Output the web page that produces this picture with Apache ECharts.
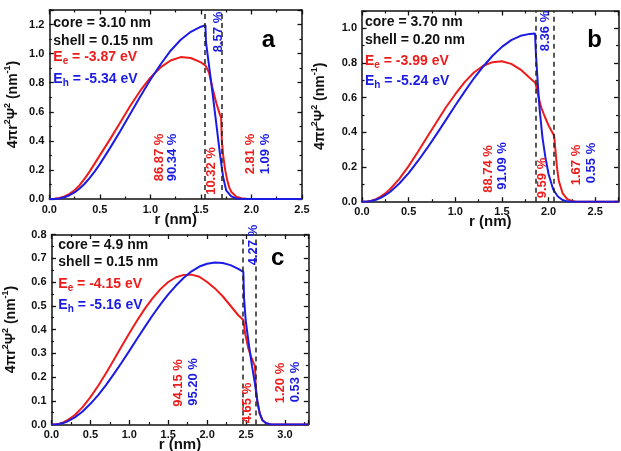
<!DOCTYPE html>
<html><head><meta charset="utf-8">
<script src="https://cdn.jsdelivr.net/npm/echarts@6/dist/echarts.min.js"></script>
<style>html,body{margin:0;padding:0;background:#fff}#c{width:621px;height:451px}</style>
</head><body><div id="c"></div>
<script>
// ---------- DATA ----------
// panel a
const rA_e = [0,0.05,0.1,0.15,0.2,0.25,0.3,0.35,0.4,0.45,0.5,0.6,0.7,0.8,0.9,1.0,1.1,1.2,1.3,1.4,1.5,1.545,1.58,1.61,1.65,1.69,1.70,1.707,1.72,1.74,1.76,1.78,1.80,1.85,1.9,1.95,2.0,2.5];
const eA   = [0,0.001,0.007,0.018,0.035,0.06,0.095,0.14,0.19,0.245,0.30,0.41,0.525,0.64,0.745,0.835,0.905,0.953,0.976,0.97,0.94,0.918,0.87,0.775,0.665,0.575,0.56,0.40,0.30,0.2,0.13,0.08,0.05,0.016,0.005,0.001,0,0];
const rA_h = [0,0.05,0.1,0.15,0.2,0.25,0.3,0.35,0.4,0.45,0.5,0.6,0.7,0.8,0.9,1.0,1.1,1.2,1.3,1.4,1.5,1.545,1.55,1.6,1.65,1.69,1.72,1.75,1.8,1.85,1.9,1.95,2.5];
const hA   = [0,0,0.004,0.012,0.026,0.045,0.072,0.105,0.145,0.19,0.24,0.35,0.465,0.585,0.705,0.82,0.925,1.02,1.095,1.15,1.185,1.195,1.08,0.81,0.53,0.30,0.15,0.06,0.018,0.004,0.001,0,0];
// panel b
const rB_e = [0,0.05,0.1,0.15,0.2,0.25,0.3,0.4,0.5,0.6,0.7,0.8,0.9,1.0,1.1,1.2,1.3,1.4,1.5,1.6,1.7,1.8,1.86,1.89,1.92,1.96,2.0,2.06,2.075,2.09,2.11,2.15,2.2,2.25,2.3,2.75];
const eB   = [0,0.001,0.006,0.015,0.03,0.048,0.072,0.132,0.205,0.288,0.375,0.46,0.545,0.62,0.69,0.745,0.784,0.805,0.81,0.795,0.762,0.713,0.685,0.61,0.545,0.49,0.44,0.38,0.29,0.2,0.12,0.05,0.015,0.004,0,0];
const rB_h = [0,0.05,0.1,0.15,0.2,0.25,0.3,0.4,0.5,0.6,0.7,0.8,0.9,1.0,1.1,1.2,1.3,1.4,1.5,1.6,1.7,1.8,1.855,1.865,1.885,1.905,1.935,1.965,2.0,2.05,2.1,2.15,2.2,2.25,2.75];
const hB   = [0,0,0.004,0.011,0.022,0.038,0.056,0.105,0.165,0.235,0.31,0.39,0.472,0.555,0.635,0.712,0.78,0.842,0.893,0.932,0.957,0.968,0.97,0.85,0.68,0.53,0.37,0.26,0.16,0.07,0.03,0.01,0.002,0,0];
// panel c
const rC_e = [0,0.05,0.1,0.15,0.2,0.3,0.4,0.5,0.6,0.7,0.8,0.9,1.0,1.1,1.2,1.3,1.4,1.5,1.6,1.7,1.8,1.9,2.0,2.1,2.2,2.3,2.4,2.465,2.49,2.53,2.57,2.615,2.625,2.645,2.675,2.71,2.76,2.81,2.86,3.3];
const eC   = [0,0,0.003,0.009,0.017,0.04,0.073,0.115,0.163,0.216,0.272,0.328,0.384,0.438,0.488,0.532,0.57,0.6,0.62,0.63,0.631,0.622,0.6,0.573,0.54,0.5,0.46,0.44,0.38,0.32,0.28,0.245,0.16,0.095,0.047,0.018,0.005,0.001,0,0];
const rC_h = [0,0.05,0.1,0.15,0.2,0.3,0.4,0.5,0.6,0.7,0.8,0.9,1.0,1.1,1.2,1.3,1.4,1.5,1.6,1.7,1.8,1.9,2.0,2.1,2.2,2.3,2.4,2.465,2.475,2.495,2.535,2.575,2.615,2.645,2.675,2.71,2.76,2.81,2.86,3.3];
const hC   = [0,0,0.002,0.006,0.012,0.03,0.055,0.087,0.124,0.166,0.212,0.26,0.31,0.361,0.411,0.46,0.506,0.548,0.585,0.618,0.645,0.665,0.677,0.682,0.68,0.671,0.655,0.643,0.53,0.44,0.34,0.25,0.17,0.1,0.048,0.018,0.005,0.001,0,0];
// core / shell boundaries (dashed lines)
const shellA = [1.545, 1.705];
const shellB = [1.86, 2.06];
const shellC = [2.465, 2.62];
// texts
const infoA = ['core = 3.10 nm','shell = 0.15 nm','-3.87','-5.34'];
const infoB = ['core = 3.70 nm','shell = 0.20 nm','-3.99','-5.24'];
const infoC = ['core = 4.9 nm','shell = 0.15 nm','-4.15','-5.16'];
const pctA = ['86.87 %','90.34 %','10.32 %','8.57 %','2.81 %','1.09 %'];
const pctB = ['88.74 %','91.09 %','9.59 %','8.36 %','1.67 %','0.55 %'];
const pctC = ['94.15 %','95.20 %','4.65 %','4.27 %','1.20 %','0.53 %'];
const tags = ['a','b','c'];
const xName = 'r (nm)';
const yName = '4πr{s|2}Ψ{s|2} (nm{s|-1})';

// ---------- STYLE / LAYOUT ----------
const FONT = '"Liberation Sans", Arial, Helvetica, sans-serif';
const RED = '#ee1b1b', BLUE = '#1b1be3', INK = '#111';
const grids = [
  {left:49.3, top:10, width:252.7, height:189},
  {left:362, top:11, width:256.5, height:190.7},
  {left:51.5, top:234.5, width:256.8, height:190}
];
const xMax = [2.5, 2.75, 3.3], yMax = [1.3, 1.1, 0.8], yInt = [0.2, 0.2, 0.1];
const xShowMax = [true, false, false], yShowMax = [false, false, true];
const yNameGap = [26, 32, 30];

const panels = [
  {re:rA_e, e:eA, rh:rA_h, h:hA, shell:shellA, info:infoA, pct:pctA},
  {re:rB_e, e:eB, rh:rB_h, h:hB, shell:shellB, info:infoB, pct:pctB},
  {re:rC_e, e:eC, rh:rC_h, h:hC, shell:shellC, info:infoC, pct:pctC}
];
const infoPos = [{x:53.3, ys:[23.5,41,57,79]}, {x:365, ys:[22.5,40.5,61,81.5]}, {x:58.3, ys:[245.5,262,284,305]}];
const pctPos = [
  [[159.3,157.5],[172.3,157.5],[211.7,171],[218.3,32],[250,154],[265.7,154]],
  [[488.3,169],[502.7,166],[542.7,178],[545,31],[576.7,165],[591.7,163]],
  [[178.3,383],[193.3,382],[247.7,403],[253.3,245],[280,383],[295,382]]
];
const pctCol = [RED,BLUE,RED,BLUE,RED,BLUE];
const tagPos = [[268.3,40],[594.7,40],[277.7,258]];

const lineAx = {show:true, onZero:false, lineStyle:{color:INK, width:1.5}};
const tickAx = {show:true, inside:true, length:4.5, lineStyle:{color:INK, width:1.3}};
const minorAx = {show:true, splitNumber:2, length:2.5, lineStyle:{color:INK, width:1.2}};
const lblBase = {fontSize:11, fontWeight:'bold', fontFamily:FONT, color:INK};

const xAxis = [], yAxis = [], series = [], graphic = [];
for (let i = 0; i < 3; i++) {
  const common = {type:'value', gridIndex:i, min:0, max:xMax[i], interval:0.5,
    axisLine:lineAx, axisTick:tickAx, minorTick:minorAx, splitLine:{show:false}, minorSplitLine:{show:false}};
  xAxis[i] = Object.assign({}, common, {position:'bottom', name:xName, nameLocation:'middle', nameGap:13,
    nameMoveOverlap:false,
    nameTextStyle:{fontSize:15, fontWeight:'bold', fontFamily:FONT, color:INK},
    axisLabel:Object.assign({margin:5, showMinLabel:true, showMaxLabel:xShowMax[i], formatter:v=>v.toFixed(1)}, lblBase)});
  xAxis[i+3] = Object.assign({}, common, {position:'top', axisLabel:{show:false}});
  const ycommon = {type:'value', gridIndex:i, min:0, max:yMax[i], interval:yInt[i],
    axisLine:lineAx, axisTick:tickAx, minorTick:minorAx, splitLine:{show:false}, minorSplitLine:{show:false}};
  yAxis[i] = Object.assign({}, ycommon, {position:'left', name:yName, nameLocation:'middle', nameGap:yNameGap[i],
    nameMoveOverlap:false,
    nameTextStyle:{fontSize:14, fontWeight:'bold', fontFamily:FONT, color:INK, lineHeight:20,
      rich:{s:{fontSize:9, fontWeight:'bold', fontFamily:FONT, color:INK, verticalAlign:'top'}}},
    axisLabel:Object.assign({margin:5, showMinLabel:true, showMaxLabel:yShowMax[i], formatter:v=>v.toFixed(1)}, lblBase)});
  yAxis[i+3] = Object.assign({}, ycommon, {position:'right', axisLabel:{show:false}});

  const p = panels[i];
  series.push({type:'line', xAxisIndex:i, yAxisIndex:i, data:p.re.map((r,k)=>[r,p.e[k]]),
    symbol:'none', smooth:false, lineStyle:{color:RED, width:2}, itemStyle:{color:RED}, z:3,
    markLine:{silent:true, symbol:['none','none'], label:{show:false}, animation:false,
      lineStyle:{color:'#222', width:1.5, type:[5,4]}, emphasis:{disabled:true},
      data:p.shell.map(v=>({xAxis:v}))}});
  series.push({type:'line', xAxisIndex:i, yAxisIndex:i, data:p.rh.map((r,k)=>[r,p.h[k]]),
    symbol:'none', smooth:false, lineStyle:{color:BLUE, width:2}, itemStyle:{color:BLUE}, z:4});

  // info block
  const ip = infoPos[i];
  const baseTxt = {fontSize:14, fontWeight:'bold', fontFamily:FONT, align:'left', verticalAlign:'middle', textAlign:'left', textVerticalAlign:'middle'};
  graphic.push({type:'text', z:100, x:ip.x, y:ip.ys[0], style:Object.assign({text:p.info[0], fill:INK}, baseTxt)});
  graphic.push({type:'text', z:100, x:ip.x, y:ip.ys[1], style:Object.assign({text:p.info[1], fill:INK}, baseTxt)});
  [['e', p.info[2], RED, 2], ['h', p.info[3], BLUE, 3]].forEach(([sub, val, col, li]) => {
    graphic.push({type:'text', z:100, x:ip.x, y:ip.ys[li], style:Object.assign({
      text:'{m|E}{s|' + sub + '}{m| = ' + val + ' eV}', fill:col,
      rich:{m:{fontSize:14, fontWeight:'bold', fontFamily:FONT, fill:col, lineHeight:18},
            s:{fontSize:10, fontWeight:'bold', fontFamily:FONT, fill:col, verticalAlign:'bottom'}}}, baseTxt)});
  });
  // percentages
  p.pct.forEach((t, k) => {
    graphic.push({type:'text', z:100, x:pctPos[i][k][0], y:pctPos[i][k][1], rotation:Math.PI/2,
      style:{text:t, fill:pctCol[k], fontSize:13, fontWeight:'bold', fontFamily:FONT,
        align:'center', verticalAlign:'middle', textAlign:'center', textVerticalAlign:'middle'}});
  });
  graphic.push({type:'text', z:100, x:tagPos[i][0], y:tagPos[i][1],
    style:{text:tags[i], fill:'#000', fontSize:24, fontWeight:'bold', fontFamily:FONT,
      align:'center', verticalAlign:'middle', textAlign:'center', textVerticalAlign:'middle'}});
}

const chart = echarts.init(document.getElementById('c'), null, {renderer:'canvas'});
chart.setOption({
  animation:false,
  backgroundColor:'#fff',
  grid: grids.map(g => Object.assign({containLabel:false, outerBoundsMode:'none'}, g)),
  xAxis, yAxis, series, graphic
});
</script></body></html>
